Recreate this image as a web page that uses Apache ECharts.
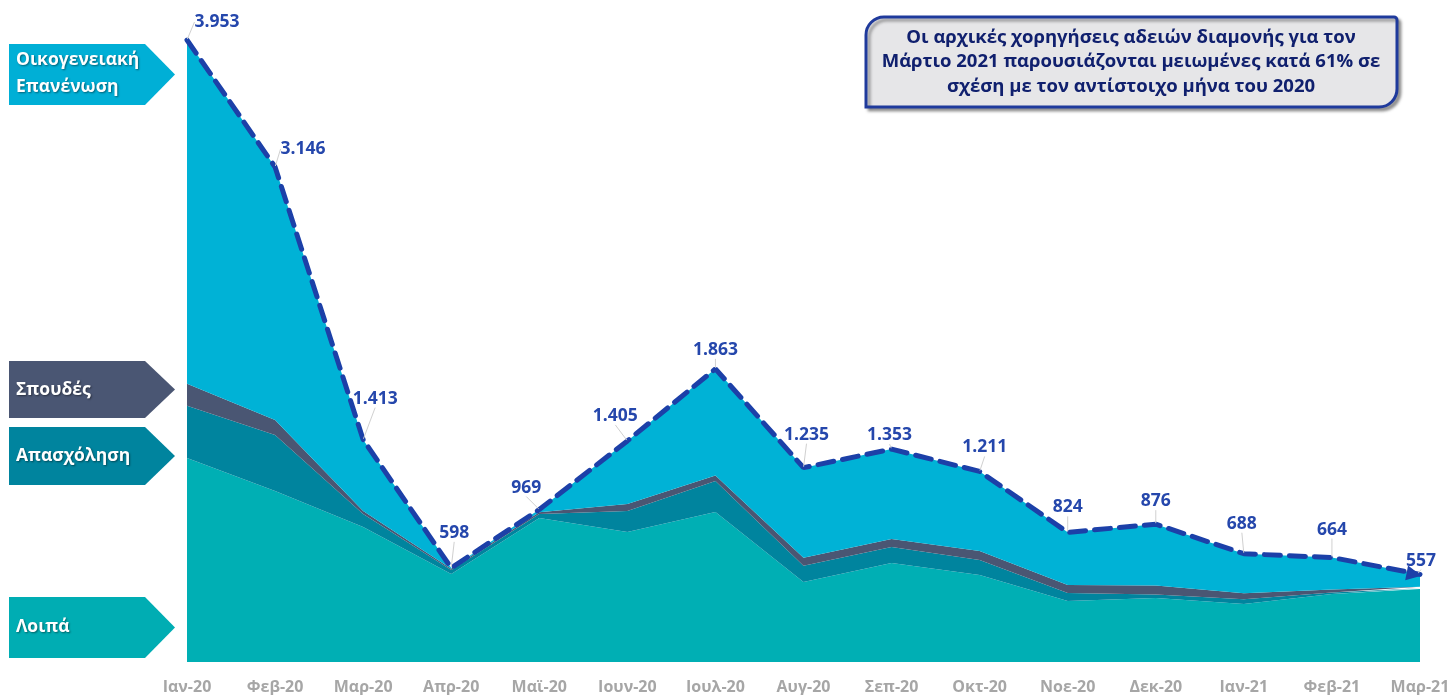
<!DOCTYPE html>
<html>
<head>
<meta charset="utf-8">
<script src="https://cdn.jsdelivr.net/npm/echarts@6/dist/echarts.min.js"></script>
<style>
  html, body { margin: 0; padding: 0; background: #fff; }
  #main { width: 1453px; height: 695px; }
</style>
</head>
<body>
<div id="main"></div>
<script>
// μήνες
var months = ['Ιαν-20', 'Φεβ-20', 'Μαρ-20', 'Απρ-20', 'Μαϊ-20', 'Ιουν-20', 'Ιουλ-20', 'Αυγ-20',
  'Σεπ-20', 'Οκτ-20', 'Νοε-20', 'Δεκ-20', 'Ιαν-21', 'Φεβ-21', 'Μαρ-21'];

// κατηγορίες αδειών (εκτίμηση από το γράφημα)
var loipa = [1297, 1087, 858, 560, 915, 826, 954, 509, 629, 553, 388, 407, 369, 432, 464];
var apasxolisi = [331, 356, 83, 25, 25, 133, 197, 102, 102, 95, 51, 22, 30, 10, 5];
var spoudes = [140, 95, 19, 8, 12, 45, 35, 51, 51, 57, 51, 57, 38, 18, 10];
var oikogeneiaki = [2185, 1608, 453, 5, 17, 401, 677, 573, 571, 506, 334, 390, 251, 204, 78];

// σύνολο ανά μήνα
var synolo = [3953, 3146, 1413, 598, 969, 1405, 1863, 1235, 1353, 1211, 824, 876, 688, 664, 557];

var chart = echarts.init(document.getElementById('main'));

var FONT = '"Open Sans", "Noto Sans", sans-serif';
var LINE_BLUE = '#1C40A8';

// μετατόπιση ετικετών συνόλου
var labelShift = [[30, -3], [28, -3], [12, -26], [3, -20], [-13, -7], [-12, -10], [0, -4], [3, -18],
  [-2, 1], [5, -9], [0, -10], [0, -8], [-2, -15], [0, -13], [7, 9]];

function fmt(v) {
  return String(v).replace(/\B(?=(\d{3})+(?!\d))/g, '.');
}

function area(name, data, color) {
  return {
    name: name,
    type: 'line',
    stack: 'total',
    data: data,
    symbol: 'none',
    showSymbol: false,
    lineStyle: { width: 0 },
    areaStyle: { color: color, opacity: 1 },
    silent: true
  };
}

var totalData = synolo.map(function (v, i) {
  if (i === synolo.length - 1) {
    return {
      value: v,
      symbol: 'triangle',
      symbolSize: [15, 15],
      symbolRotate: -101,
      symbolOffset: [-6, 0],
      itemStyle: { color: LINE_BLUE }
    };
  }
  return v;
});

function tag(y1, y2, color, text, ty) {
  return [{
    type: 'polygon',
    shape: { points: [[9, y1], [145, y1], [175, (y1 + y2) / 2], [145, y2], [9, y2]] },
    style: { fill: color }
  }, {
    type: 'text',
    left: 16,
    top: ty,
    style: {
      text: text,
      fill: '#fff',
      font: 'bold 17.5px ' + FONT,
      lineHeight: 27,
      textShadowColor: 'rgba(0,0,0,0.45)',
      textShadowBlur: 2,
      textShadowOffsetX: 1,
      textShadowOffsetY: 1
    }
  }];
}

var graphics = [].concat(
  tag(44, 105, '#00AFD6', 'Οικογενειακή\nΕπανένωση', 47),
  tag(361, 418, '#4A5673', 'Σπουδές', 377),
  tag(427, 485, '#00849E', 'Απασχόληση', 443),
  tag(597, 658, '#00ADB3', 'Λοιπά', 614),
  [{
    type: 'rect',
    shape: { x: 866, y: 17, width: 531, height: 90, r: [18, 3, 18, 0] },
    style: {
      fill: '#E6E6E8',
      stroke: '#1F3A9C',
      lineWidth: 3,
      shadowColor: 'rgba(0,0,0,0.35)',
      shadowBlur: 3,
      shadowOffsetX: 3,
      shadowOffsetY: 3
    }
  }, {
    type: 'text',
    x: 1131,
    y: 62,
    style: {
      text: 'Οι αρχικές χορηγήσεις αδειών διαμονής για τον\nΜάρτιο 2021 παρουσιάζονται μειωμένες κατά 61% σε\nσχέση με τον αντίστοιχο μήνα του 2020',
      fill: '#10206E',
      font: 'bold 18.5px ' + FONT,
      lineHeight: 24.5,
      align: 'center',
      verticalAlign: 'middle'
    }
  }]
);

var option = {
  backgroundColor: '#fff',
  animation: false,
  grid: { left: 187, right: 33, top: 40, bottom: 33 },
  xAxis: {
    type: 'category',
    data: months,
    boundaryGap: false,
    axisLine: { show: false },
    axisTick: { show: false },
    axisLabel: {
      color: '#A6A6A6',
      fontSize: 16,
      fontWeight: 'bold',
      fontFamily: FONT,
      margin: 17,
      interval: 0
    }
  },
  yAxis: {
    type: 'value',
    min: 0,
    max: 3953,
    show: false,
    splitLine: { show: false }
  },
  series: [
    area('Λοιπά', loipa, '#00AFB4'),
    area('Απασχόληση', apasxolisi, '#00849E'),
    area('Σπουδές', spoudes, '#4A5673'),
    area('Οικογενειακή Επανένωση', oikogeneiaki, '#00B2D6'),
    {
      name: 'Σύνολο',
      type: 'line',
      data: totalData,
      symbol: 'circle',
      symbolSize: 2,
      showSymbol: true,
      z: 5,
      lineStyle: { color: LINE_BLUE, width: 5, type: [16, 9], cap: 'round' },
      itemStyle: { color: 'rgba(0,0,0,0)' },
      label: {
        show: true,
        position: 'top',
        distance: 5,
        color: '#2547AC',
        fontSize: 17.5,
        fontWeight: 'bold',
        fontFamily: FONT,
        formatter: function (p) { return fmt(p.value); }
      },
      labelLine: {
        show: true,
        lineStyle: { color: '#D0D0D0', width: 1 }
      },
      labelLayout: function (p) {
        var s = labelShift[p.dataIndex] || [0, 0];
        return { dx: s[0], dy: s[1] };
      }
    }
  ],
  graphic: graphics
};

chart.setOption(option);
</script>
</body>
</html>
